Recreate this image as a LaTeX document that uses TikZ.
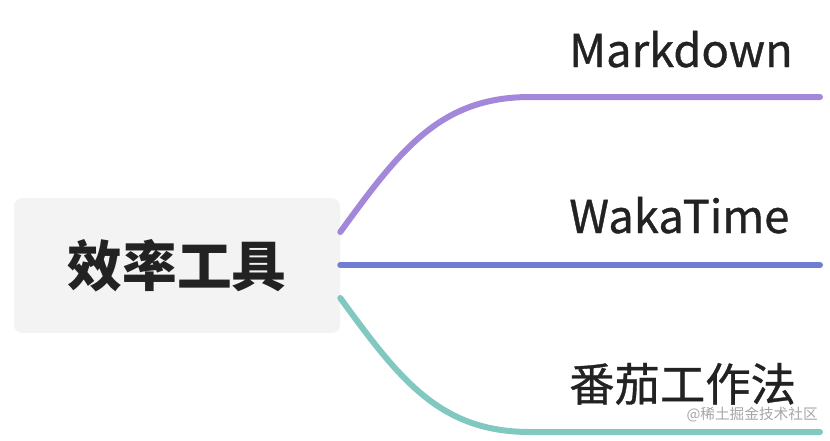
\documentclass[tikz,border=0pt]{standalone}
\usepackage{fontspec}
\newfontfamily\cjk{Noto Sans CJK SC}
\newfontfamily\cjkm[FakeBold=0.8]{Noto Sans CJK SC}
\definecolor{cpurple}{HTML}{A287DA}
\definecolor{cblue}{HTML}{6F7ED2}
\definecolor{cteal}{HTML}{80C8C0}
\definecolor{cbox}{HTML}{F3F3F3}
\definecolor{ctext}{HTML}{222222}
\begin{document}
\begin{tikzpicture}[x=0.75pt,y=-0.75pt,
  branch/.style={line width=4.5pt,line cap=round},
  lbl/.style={font=\cjkm\fontsize{34}{40}\selectfont,text=ctext,anchor=base west,inner sep=0}]
\useasboundingbox (0,0) rectangle (830,440);
\node[fill=cbox,rounded corners=6pt,minimum width=244.5pt,minimum height=101pt,inner sep=0,text=ctext,
  font=\cjk\bfseries\fontsize{41}{48}\selectfont] (root) at (177,265.5) {效率工具};
\coordinate (p1) at (820,97);
\coordinate (p2) at (820,265);
\coordinate (p3) at (820,432);
\draw[branch,cpurple] (root.east |- 0,232) .. controls (400,150) and (440,97) .. (530,97) -- (p1);
\draw[branch,cblue] (root.east |- 0,265) -- (p2);
\draw[branch,cteal] (root.east |- 0,298) .. controls (400,380) and (440,432) .. (530,432) -- (p3);
\node[lbl] (m) at (569,67) {Markdown};
\node[lbl] (w) at (569,233) {WakaTime};
\node[lbl] (f) at (569,401) {番茄工作法};
\node[font=\cjk\fontsize{11}{13}\selectfont,text=gray!70,anchor=base east,inner sep=0] (wm) at (818,419) {@稀土掘金技术社区};
\end{tikzpicture}
\end{document}
